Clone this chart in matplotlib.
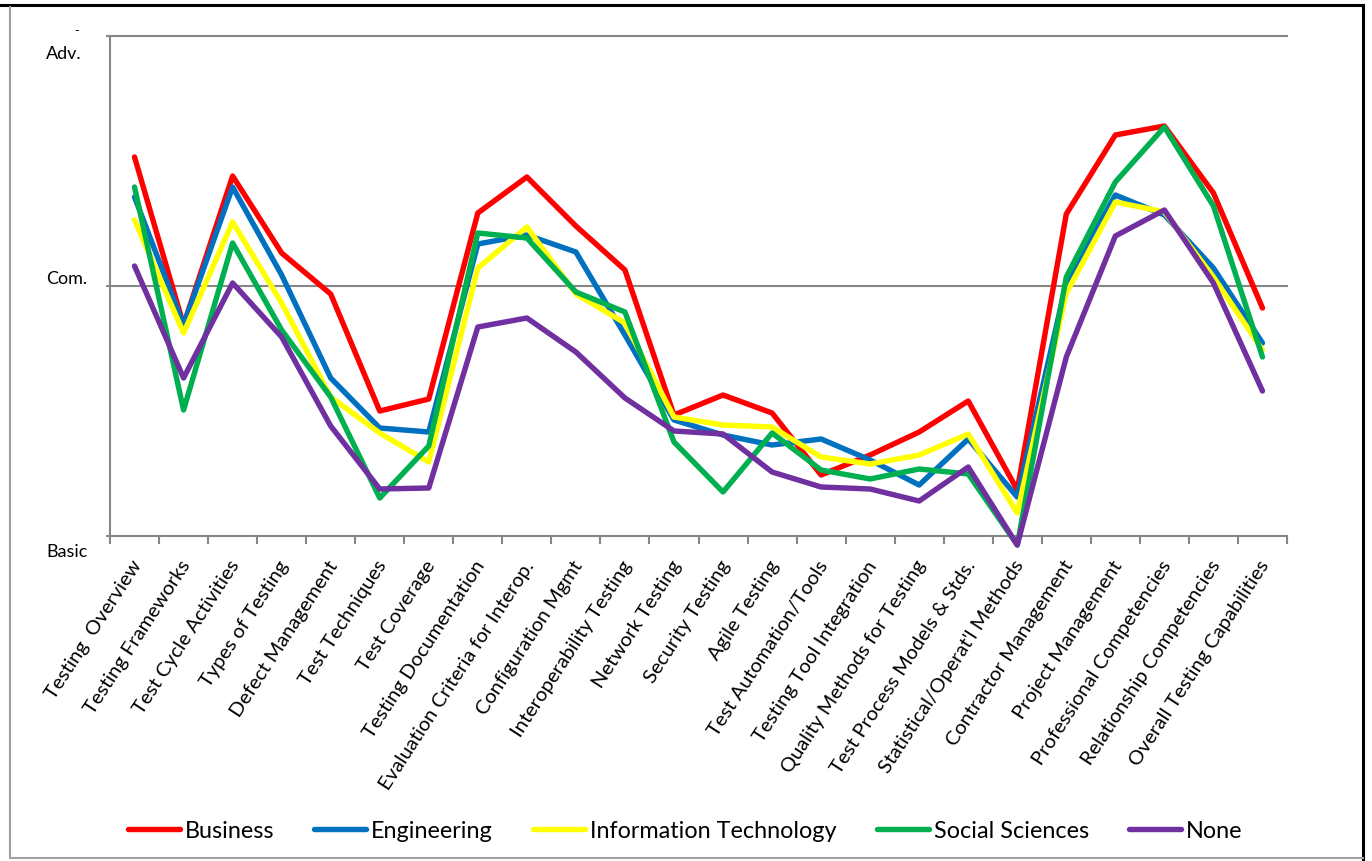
import matplotlib
matplotlib.use("Agg")
import matplotlib.pyplot as plt
from matplotlib.lines import Line2D
from matplotlib.transforms import ScaledTranslation

categories = [
    "Testing  Overview", "Testing Frameworks", "Test Cycle Activities", "Types of Testing",
    "Defect Management", "Test Techniques", "Test Coverage", "Testing Documentation",
    "Evaluation Criteria for Interop.", "Configuration Mgmt", "Interoperability Testing",
    "Network Testing", "Security Testing", "Agile Testing", "Test Automation/Tools",
    "Testing Tool Integration", "Quality Methods for Testing", "Test Process Models & Stds.",
    "Statistical/Operat'l Methods", "Contractor Management", "Project Management",
    "Professional Competencies", "Relationship Competencies", "Overall Testing Capabilities",
]

# 1 = Basic, 2 = Com., 3 = Adv.
business = [2.516, 1.844, 2.44, 2.132, 1.968, 1.5, 1.548, 2.292, 2.436, 2.24, 2.064, 1.484,
            1.564, 1.492, 1.244, 1.324, 1.416, 1.54, 1.184, 2.288, 2.604, 2.64, 2.372, 1.912]
engineering = [2.356, 1.844, 2.396, 2.044, 1.632, 1.432, 1.416, 2.168, 2.204, 2.136, 1.804, 1.464,
               1.404, 1.364, 1.388, 1.304, 1.204, 1.388, 1.156, 2.012, 2.364, 2.284, 2.072, 1.772]
info_tech = [2.264, 1.812, 2.256, 1.932, 1.556, 1.412, 1.296, 2.072, 2.236, 1.968, 1.852, 1.476,
             1.444, 1.436, 1.316, 1.288, 1.324, 1.408, 1.092, 1.972, 2.336, 2.296, 2.036, 1.744]
social_sci = [2.396, 1.504, 2.172, 1.824, 1.556, 1.152, 1.36, 2.212, 2.192, 1.976, 1.896, 1.376,
              1.176, 1.412, 1.264, 1.228, 1.268, 1.248, 0.964, 2.036, 2.416, 2.636, 2.32, 1.716]
none_ = [2.08, 1.632, 2.012, 1.796, 1.44, 1.188, 1.192, 1.836, 1.872, 1.736, 1.552, 1.42,
         1.408, 1.256, 1.196, 1.188, 1.14, 1.276, 0.964, 1.716, 2.2, 2.304, 2.012, 1.58]

series_names = ["Business", "Engineering", "Information Technology", "Social Sciences", "None"]
series_vals = [business, engineering, info_tech, social_sci, none_]
colors = ["#FF0000", "#0070C0", "#FFFF00", "#00B050", "#7030A0"]

level_vals = [1, 2, 3]
level_labels = ["Basic", "Com.", "Adv."]

FONT = "Lato"
plt.rcParams["font.family"] = [FONT, "DejaVu Sans"]

W, H = 1372, 861
fig = plt.figure(figsize=(W / 100, H / 100), dpi=100)
fig.patch.set_facecolor("white")

ax = fig.add_axes([110 / W, 1 - 536 / H, 1177 / W, 500 / H])
ax.set_xlim(-0.5, len(categories) - 0.5)
ax.set_ylim(1, 3)

grey = "#868686"
for s in ["top", "right"]:
    ax.spines[s].set_visible(False)
for s in ["left", "bottom"]:
    ax.spines[s].set_color(grey)
    ax.spines[s].set_linewidth(1.5)

for v in level_vals[1:]:
    ax.axhline(v, color=grey, lw=1.5, zorder=1, clip_on=False)

x = list(range(len(categories)))
for name, vals, c in zip(series_names, series_vals, colors):
    ax.plot(x, vals, color=c, lw=3.9, label=name, clip_on=False,
            solid_joinstyle="round", solid_capstyle="round", zorder=3)

# y ticks / labels
ax.set_yticks(level_vals)
ax.set_yticklabels([""] * len(level_vals))
ax.tick_params(axis="y", length=3, color=grey, width=1.5, direction="out")
ytr = ax.get_yaxis_transform()
label_offsets = {1: -0.064, 2: 0.03, 3: -0.072}
for v, lab in zip(level_vals, level_labels):
    ax.text(-64 / 1177, v + label_offsets[v], lab, transform=ytr, ha="left", va="center",
            fontsize=13, color="black")
fig.text(77 / W, 1 - 31 / H, "-", fontsize=9, ha="center", va="center")

# x ticks
ax.set_xticks(x)
ax.set_xticklabels(categories, rotation=57, ha="right", va="center", rotation_mode="anchor",
                   fontsize=14.5)
ax.tick_params(axis="x", length=0, pad=19)
for lab in ax.get_xticklabels():
    lab.set_transform(lab.get_transform() + ScaledTranslation(0.03, 0, fig.dpi_scale_trans))
ax.set_xticks([i - 0.5 for i in range(len(categories) + 1)], minor=True)
ax.tick_params(axis="x", which="minor", length=6, color=grey, width=1.5, direction="out")

# legend
fs = 16.8
fs_px = fs * 100 / 72
handles = [Line2D([0], [0], color=c, lw=3.9, solid_capstyle="round") for c in colors]
fig.legend(handles, series_names, loc="center", bbox_to_anchor=(685 / W, 1 - 831 / H),
           ncol=5, frameon=False, fontsize=fs, handlelength=52 / fs_px,
           handletextpad=5 / fs_px, columnspacing=40 / fs_px, borderaxespad=0, borderpad=0)

# outer frame
fig.add_artist(Line2D([0, 1363 / W], [1 - 5 / H, 1 - 5 / H], color="black", lw=2.2,
                      transform=fig.transFigure))
fig.add_artist(Line2D([1363 / W, 1363 / W], [1 - 5 / H, 0], color="black", lw=2.2,
                      transform=fig.transFigure))
fig.add_artist(Line2D([10 / W, 10 / W], [1 - 7 / H, 1 - 858 / H], color="#A0A0A0", lw=1.5,
                      transform=fig.transFigure))
fig.add_artist(Line2D([10 / W, 1363 / W], [1 - 858 / H, 1 - 858 / H], color="#A0A0A0", lw=1.5,
                      transform=fig.transFigure))

fig.savefig("out.png", dpi=100)
